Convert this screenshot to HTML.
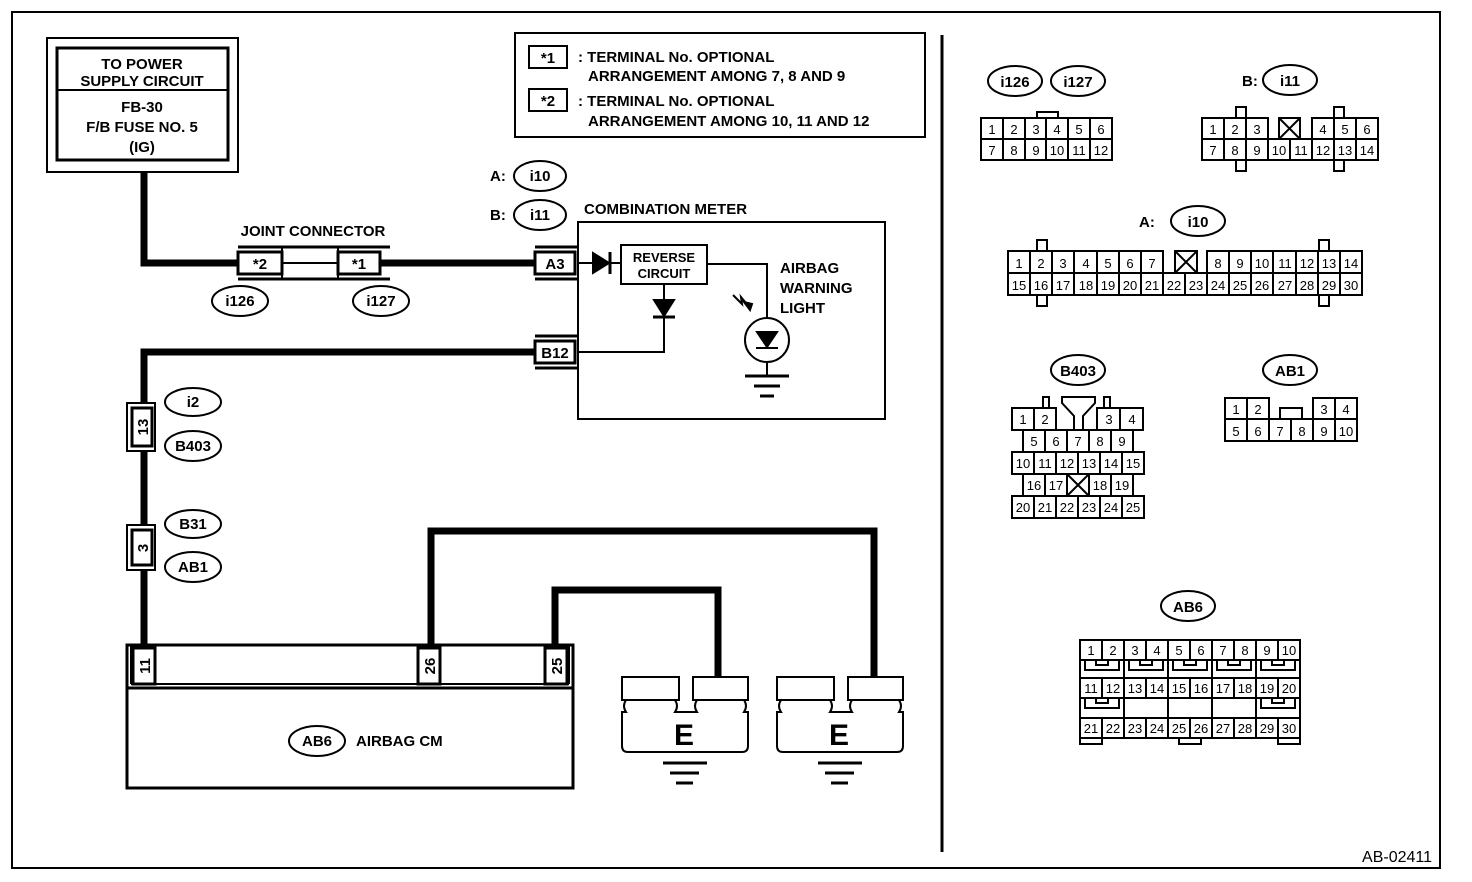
<!DOCTYPE html>
<html><head><style>
body{margin:0;background:#fff}
svg{display:block}
text{font-family:"Liberation Sans",Arial,sans-serif;font-weight:bold;fill:#000}
.s{font-size:15px}
.n{font-size:13px;font-weight:normal;text-anchor:middle}
.c{text-anchor:middle}
</style></head><body>
<svg width="1472" height="882" viewBox="0 0 1472 882" xmlns="http://www.w3.org/2000/svg" fill="none" stroke="#000" stroke-width="2">
<rect x="12" y="12" width="1428" height="856"/>
<line x1="942" y1="35" x2="942" y2="852" stroke-width="3"/>
<!-- power box -->
<rect x="47" y="38" width="191" height="134"/>
<rect x="57" y="48" width="171" height="112" stroke-width="3"/>
<line x1="57" y1="90" x2="228" y2="90"/>
<g stroke="none">
<text x="142" y="69" class="s c">TO POWER</text>
<text x="142" y="86" class="s c">SUPPLY CIRCUIT</text>
<text x="142" y="112" class="s c">FB-30</text>
<text x="142" y="132" class="s c">F/B FUSE NO. 5</text>
<text x="142" y="152" class="s c">(IG)</text>
</g>
<!-- legend -->
<rect x="515" y="33" width="410" height="104"/>
<rect x="529" y="46" width="38" height="22"/>
<rect x="529" y="89" width="38" height="22"/>
<g stroke="none">
<text x="548" y="63" class="s c">*1</text>
<text x="548" y="106" class="s c">*2</text>
<text x="578" y="62" class="s">: TERMINAL No. OPTIONAL</text>
<text x="588" y="81" class="s">ARRANGEMENT AMONG 7, 8 AND 9</text>
<text x="578" y="106" class="s">: TERMINAL No. OPTIONAL</text>
<text x="588" y="126" class="s">ARRANGEMENT AMONG 10, 11 AND 12</text>
</g>
<!-- thick wires -->
<g stroke-width="7">
<polyline points="144,172 144,263 238,263"/>
<line x1="380" y1="263" x2="535" y2="263"/>
<polyline points="535,352 144,352 144,645"/>
<polyline points="431,645 431,531 874,531 874,678"/>
<polyline points="555,645 555,590 718,590 718,678"/>
</g>
<!-- joint connector -->
<g stroke="none"><text x="313" y="236" class="s c">JOINT CONNECTOR</text></g>
<line x1="238" y1="247" x2="390" y2="247" stroke-width="3"/>
<line x1="238" y1="279" x2="390" y2="279" stroke-width="3"/>
<line x1="282" y1="247" x2="282" y2="279"/>
<line x1="338" y1="247" x2="338" y2="279"/>
<line x1="282" y1="263" x2="338" y2="263"/>
<rect x="238" y="252" width="44" height="22" stroke-width="3"/>
<rect x="338" y="252" width="42" height="22" stroke-width="3"/>
<g stroke="none"><text x="260" y="269" class="s c">*2</text><text x="359" y="269" class="s c">*1</text></g>
<ellipse cx="240" cy="301" rx="28" ry="15"/>
<ellipse cx="381" cy="301" rx="28" ry="15"/>
<g stroke="none"><text x="240" y="306" class="s c">i126</text><text x="381" y="306" class="s c">i127</text></g>
<!-- A/B labels -->
<ellipse cx="540" cy="176" rx="26" ry="15"/>
<ellipse cx="540" cy="215" rx="26" ry="15"/>
<g stroke="none">
<text x="490" y="181" class="s">A:</text><text x="540" y="181" class="s c">i10</text>
<text x="490" y="220" class="s">B:</text><text x="540" y="220" class="s c">i11</text>
<text x="584" y="214" class="s">COMBINATION METER</text>
</g>
<!-- meter -->
<rect x="578" y="222" width="307" height="197"/>
<line x1="535" y1="247" x2="578" y2="247" stroke-width="3"/>
<line x1="535" y1="279" x2="578" y2="279" stroke-width="3"/>
<rect x="535" y="252" width="40" height="22" stroke-width="3"/>
<line x1="535" y1="336" x2="578" y2="336" stroke-width="3"/>
<line x1="535" y1="368" x2="578" y2="368" stroke-width="3"/>
<rect x="535" y="341" width="40" height="22" stroke-width="3"/>
<g stroke="none"><text x="555" y="269" class="s c">A3</text><text x="555" y="358" class="s c">B12</text></g>
<line x1="578" y1="263" x2="621" y2="263"/>
<polygon points="593,253 593,273 609,263" fill="#000"/>
<line x1="610" y1="252" x2="610" y2="274" stroke-width="3"/>
<rect x="621" y="245" width="86" height="39"/>
<g stroke="none"><text x="664" y="262" class="c" style="font-size:13px">REVERSE</text><text x="664" y="278" class="c" style="font-size:13px">CIRCUIT</text></g>
<polyline points="707,264 767,264 767,318"/>
<polyline points="664,284 664,352 578,352"/>
<polygon points="654,300 674,300 664,316" fill="#000"/>
<line x1="653" y1="317" x2="675" y2="317" stroke-width="3"/>
<circle cx="767" cy="340" r="22"/>
<polygon points="757,332 777,332 767,347" fill="#000"/>
<line x1="756" y1="348" x2="778" y2="348" stroke-width="2"/>
<line x1="767" y1="362" x2="767" y2="376"/>
<line x1="745" y1="376" x2="789" y2="376" stroke-width="3"/>
<line x1="754" y1="386" x2="780" y2="386" stroke-width="3"/>
<line x1="760" y1="396" x2="774" y2="396" stroke-width="3"/>
<polyline points="733,295 742,304 741,297 750,308" stroke-width="2"/>
<polygon points="750,310 744,302 752,304" fill="#000"/>
<g stroke="none">
<text x="780" y="273" class="s">AIRBAG</text>
<text x="780" y="293" class="s">WARNING</text>
<text x="780" y="313" class="s">LIGHT</text>
</g>
<!-- inline connectors -->
<rect x="127" y="403" width="28" height="48" fill="#fff"/>
<rect x="132" y="408" width="20" height="38" fill="#fff" stroke-width="3"/>
<rect x="127" y="525" width="28" height="45" fill="#fff"/>
<rect x="132" y="530" width="20" height="35" fill="#fff" stroke-width="3"/>
<g stroke="none">
<text transform="translate(148,427) rotate(-90)" class="s c">13</text>
<text transform="translate(148,548) rotate(-90)" class="s c">3</text>
</g>
<ellipse cx="193" cy="402" rx="28" ry="14"/>
<ellipse cx="193" cy="446" rx="28" ry="15"/>
<ellipse cx="193" cy="524" rx="28" ry="14"/>
<ellipse cx="193" cy="567" rx="28" ry="15"/>
<g stroke="none">
<text x="193" y="407" class="s c">i2</text>
<text x="193" y="451" class="s c">B403</text>
<text x="193" y="529" class="s c">B31</text>
<text x="193" y="572" class="s c">AB1</text>
</g>
<!-- airbag CM -->
<rect x="127" y="645" width="446" height="143" stroke-width="3"/>
<line x1="127" y1="688" x2="573" y2="688" stroke-width="3"/>
<line x1="131" y1="684" x2="569" y2="684"/>
<line x1="131" y1="645" x2="131" y2="684"/>
<line x1="569" y1="645" x2="569" y2="684"/>
<rect x="133" y="648" width="22" height="36" stroke-width="3"/>
<rect x="418" y="648" width="22" height="36" stroke-width="3"/>
<rect x="545" y="648" width="22" height="36" stroke-width="3"/>
<g stroke="none">
<text transform="translate(150,666) rotate(-90)" class="s c">11</text>
<text transform="translate(435,666) rotate(-90)" class="s c">26</text>
<text transform="translate(562,666) rotate(-90)" class="s c">25</text>
</g>
<ellipse cx="317" cy="741" rx="28" ry="15"/>
<g stroke="none"><text x="317" y="746" class="s c">AB6</text><text x="356" y="746" class="s">AIRBAG CM</text></g>
<!-- grounds E -->
<g id="e1">
<rect x="622" y="677" width="57" height="23"/>
<rect x="693" y="677" width="55" height="23"/>
<path d="M626,700 Q622,706 626,712 L622,712 L622,746 Q622,752 628,752 L742,752 Q748,752 748,746 L748,712 L744,712 Q748,706 744,700"/>
<path d="M675,700 Q679,706 675,712 L697,712 Q693,706 697,700"/>
</g>
<g transform="translate(155,0)">
<rect x="622" y="677" width="57" height="23"/>
<rect x="693" y="677" width="55" height="23"/>
<path d="M626,700 Q622,706 626,712 L622,712 L622,746 Q622,752 628,752 L742,752 Q748,752 748,746 L748,712 L744,712 Q748,706 744,700"/>
<path d="M675,700 Q679,706 675,712 L697,712 Q693,706 697,700"/>
</g>
<g stroke="none"><text x="684" y="745" class="c" style="font-size:30px">E</text><text x="839" y="745" class="c" style="font-size:30px">E</text></g>
<g stroke-width="3">
<line x1="663" y1="763" x2="707" y2="763"/><line x1="670" y1="773" x2="699" y2="773"/><line x1="676" y1="783" x2="693" y2="783"/>
<line x1="818" y1="763" x2="862" y2="763"/><line x1="825" y1="773" x2="854" y2="773"/><line x1="831" y1="783" x2="848" y2="783"/>
</g>

<!-- RIGHT: i126/i127 -->
<ellipse cx="1015" cy="81" rx="27" ry="15"/>
<ellipse cx="1078" cy="81" rx="27" ry="15"/>
<g stroke="none"><text x="1015" y="87" class="s c">i126</text><text x="1078" y="87" class="s c">i127</text></g>
<rect x="1037" y="112" width="21" height="6"/>
<rect x="981" y="118" width="131" height="42"/>
<path d="M981,139H1112M1003,118V160M1025,118V160M1046,118V160M1068,118V160M1090,118V160"/>
<g stroke="none" class="n">
<text x="992" y="134" class="n">1</text><text x="1014" y="134" class="n">2</text><text x="1036" y="134" class="n">3</text><text x="1057" y="134" class="n">4</text><text x="1079" y="134" class="n">5</text><text x="1101" y="134" class="n">6</text>
<text x="992" y="155" class="n">7</text><text x="1014" y="155" class="n">8</text><text x="1036" y="155" class="n">9</text><text x="1057" y="155" class="n">10</text><text x="1079" y="155" class="n">11</text><text x="1101" y="155" class="n">12</text>
</g>
<!-- B:i11 -->
<ellipse cx="1290" cy="80" rx="27" ry="15"/>
<g stroke="none"><text x="1242" y="86" class="s">B:</text><text x="1290" y="86" class="s c">i11</text></g>
<rect x="1236" y="107" width="10" height="11"/><rect x="1334" y="107" width="10" height="11"/>
<rect x="1236" y="160" width="10" height="11"/><rect x="1334" y="160" width="10" height="11"/>
<path d="M1202,118H1268V139H1312V118H1378V160H1202Z"/>
<path d="M1202,139H1378M1224,118V160M1246,118V160M1268,139V160M1290,139V160M1312,139V160M1334,118V160M1356,118V160"/>
<rect x="1279" y="118" width="21" height="21"/><path d="M1279,118L1300,139M1300,118L1279,139"/>
<g stroke="none">
<text x="1213" y="134" class="n">1</text><text x="1235" y="134" class="n">2</text><text x="1257" y="134" class="n">3</text><text x="1323" y="134" class="n">4</text><text x="1345" y="134" class="n">5</text><text x="1367" y="134" class="n">6</text>
<text x="1213" y="155" class="n">7</text><text x="1235" y="155" class="n">8</text><text x="1257" y="155" class="n">9</text><text x="1279" y="155" class="n">10</text><text x="1301" y="155" class="n">11</text><text x="1323" y="155" class="n">12</text><text x="1345" y="155" class="n">13</text><text x="1367" y="155" class="n">14</text>
</g>
<!-- A:i10 -->
<ellipse cx="1198" cy="221" rx="27" ry="15"/>
<g stroke="none"><text x="1139" y="227" class="s">A:</text><text x="1198" y="227" class="s c">i10</text></g>
<rect x="1037" y="240" width="10" height="11"/><rect x="1319" y="240" width="10" height="11"/>
<rect x="1037" y="295" width="10" height="11"/><rect x="1319" y="295" width="10" height="11"/>
<path d="M1008,251H1163V273H1207V251H1362V295H1008Z"/>
<path d="M1008,273H1362M1030,251V295M1052,251V295M1074,251V295M1097,251V295M1119,251V295M1141,251V295M1163,273V295M1185,273V295M1207,273V295M1229,251V295M1251,251V295M1273,251V295M1296,251V295M1318,251V295M1340,251V295"/>
<rect x="1175" y="251" width="22" height="22"/><path d="M1175,251L1197,273M1197,251L1175,273"/>
<g stroke="none">
<text x="1019" y="268" class="n">1</text><text x="1041" y="268" class="n">2</text><text x="1063" y="268" class="n">3</text><text x="1086" y="268" class="n">4</text><text x="1108" y="268" class="n">5</text><text x="1130" y="268" class="n">6</text><text x="1152" y="268" class="n">7</text>
<text x="1218" y="268" class="n">8</text><text x="1240" y="268" class="n">9</text><text x="1262" y="268" class="n">10</text><text x="1285" y="268" class="n">11</text><text x="1307" y="268" class="n">12</text><text x="1329" y="268" class="n">13</text><text x="1351" y="268" class="n">14</text>
<text x="1019" y="290" class="n">15</text><text x="1041" y="290" class="n">16</text><text x="1063" y="290" class="n">17</text><text x="1086" y="290" class="n">18</text><text x="1108" y="290" class="n">19</text><text x="1130" y="290" class="n">20</text><text x="1152" y="290" class="n">21</text><text x="1174" y="290" class="n">22</text><text x="1196" y="290" class="n">23</text><text x="1218" y="290" class="n">24</text><text x="1240" y="290" class="n">25</text><text x="1262" y="290" class="n">26</text><text x="1285" y="290" class="n">27</text><text x="1307" y="290" class="n">28</text><text x="1329" y="290" class="n">29</text><text x="1351" y="290" class="n">30</text>
</g>
<!-- B403 -->
<ellipse cx="1078" cy="370" rx="27" ry="15"/>
<g stroke="none"><text x="1078" y="376" class="s c">B403</text></g>
<rect x="1043" y="397" width="6" height="11"/><rect x="1104" y="397" width="6" height="11"/>
<path d="M1062,397H1095V403L1083,416V430H1074V416L1062,403Z"/>
<path d="M1012,408H1056V430H1012Z M1097,408H1143V430H1097Z"/>
<path d="M1023,430H1133V452H1023Z M1045,430V452M1067,430V452M1089,430V452M1111,430V452M1034,408V430M1120,408V430"/>
<path d="M1012,452H1144V474H1012Z M1034,452V474M1056,452V474M1078,452V474M1100,452V474M1122,452V474"/>
<path d="M1023,474H1133V496H1023Z M1045,474V496M1067,474V496M1089,474V496M1111,474V496M1067,474L1089,496M1089,474L1067,496"/>
<path d="M1012,496H1144V518H1012Z M1034,496V518M1056,496V518M1078,496V518M1100,496V518M1122,496V518"/>
<g stroke="none">
<text x="1023" y="424" class="n">1</text><text x="1045" y="424" class="n">2</text><text x="1109" y="424" class="n">3</text><text x="1132" y="424" class="n">4</text>
<text x="1034" y="446" class="n">5</text><text x="1056" y="446" class="n">6</text><text x="1078" y="446" class="n">7</text><text x="1100" y="446" class="n">8</text><text x="1122" y="446" class="n">9</text>
<text x="1023" y="468" class="n">10</text><text x="1045" y="468" class="n">11</text><text x="1067" y="468" class="n">12</text><text x="1089" y="468" class="n">13</text><text x="1111" y="468" class="n">14</text><text x="1133" y="468" class="n">15</text>
<text x="1034" y="490" class="n">16</text><text x="1056" y="490" class="n">17</text><text x="1100" y="490" class="n">18</text><text x="1122" y="490" class="n">19</text>
<text x="1023" y="512" class="n">20</text><text x="1045" y="512" class="n">21</text><text x="1067" y="512" class="n">22</text><text x="1089" y="512" class="n">23</text><text x="1111" y="512" class="n">24</text><text x="1133" y="512" class="n">25</text>
</g>
<!-- AB1 -->
<ellipse cx="1290" cy="370" rx="27" ry="15"/>
<g stroke="none"><text x="1290" y="376" class="s c">AB1</text></g>
<path d="M1225,398H1269V419H1313V398H1357V441H1225Z"/>
<path d="M1225,419H1357M1247,398V441M1269,419V441M1291,419V441M1313,419V441M1335,398V441M1280,419V408H1302V419"/>
<g stroke="none">
<text x="1236" y="414" class="n">1</text><text x="1258" y="414" class="n">2</text><text x="1324" y="414" class="n">3</text><text x="1346" y="414" class="n">4</text>
<text x="1236" y="436" class="n">5</text><text x="1258" y="436" class="n">6</text><text x="1280" y="436" class="n">7</text><text x="1302" y="436" class="n">8</text><text x="1324" y="436" class="n">9</text><text x="1346" y="436" class="n">10</text>
</g>
<!-- AB6 -->
<ellipse cx="1188" cy="606" rx="27" ry="15"/>
<g stroke="none"><text x="1188" y="612" class="s c">AB6</text></g>
<rect x="1080" y="640" width="220" height="98"/>
<path d="M1080,660H1300M1080,678H1300M1080,698H1300M1080,718H1300"/>
<path d="M1102,640V660M1124,640V678M1146,640V660M1168,640V678M1190,640V660M1212,640V678M1234,640V660M1256,640V678M1278,640V660"/>
<path d="M1102,678V698M1124,678V718M1146,678V698M1168,678V718M1190,678V698M1212,678V718M1234,678V698M1256,678V718M1278,678V698"/>
<path d="M1102,718V738M1124,718V738M1146,718V738M1168,718V738M1190,718V738M1212,718V738M1234,718V738M1256,718V738M1278,718V738"/>
<path d="M1085,660V670H1119V660M1096,660V665H1108V660 M1129,660V670H1163V660M1140,660V665H1152V660 M1173,660V670H1207V660M1184,660V665H1196V660 M1217,660V670H1251V660M1228,660V665H1240V660 M1261,660V670H1295V660M1272,660V665H1284V660"/>
<path d="M1085,698V708H1119V698M1096,698V703H1108V698 M1261,698V708H1295V698M1272,698V703H1284V698"/>
<rect x="1080" y="738" width="22" height="6"/><rect x="1179" y="738" width="22" height="6"/><rect x="1278" y="738" width="22" height="6"/>
<g stroke="none">
<text x="1091" y="655" class="n">1</text><text x="1113" y="655" class="n">2</text><text x="1135" y="655" class="n">3</text><text x="1157" y="655" class="n">4</text><text x="1179" y="655" class="n">5</text><text x="1201" y="655" class="n">6</text><text x="1223" y="655" class="n">7</text><text x="1245" y="655" class="n">8</text><text x="1267" y="655" class="n">9</text><text x="1289" y="655" class="n">10</text>
<text x="1091" y="693" class="n">11</text><text x="1113" y="693" class="n">12</text><text x="1135" y="693" class="n">13</text><text x="1157" y="693" class="n">14</text><text x="1179" y="693" class="n">15</text><text x="1201" y="693" class="n">16</text><text x="1223" y="693" class="n">17</text><text x="1245" y="693" class="n">18</text><text x="1267" y="693" class="n">19</text><text x="1289" y="693" class="n">20</text>
<text x="1091" y="733" class="n">21</text><text x="1113" y="733" class="n">22</text><text x="1135" y="733" class="n">23</text><text x="1157" y="733" class="n">24</text><text x="1179" y="733" class="n">25</text><text x="1201" y="733" class="n">26</text><text x="1223" y="733" class="n">27</text><text x="1245" y="733" class="n">28</text><text x="1267" y="733" class="n">29</text><text x="1289" y="733" class="n">30</text>
</g>
<g stroke="none"><text x="1432" y="862" style="font-size:16px;font-weight:normal;text-anchor:end">AB-02411</text></g>
</svg>
</body></html>
